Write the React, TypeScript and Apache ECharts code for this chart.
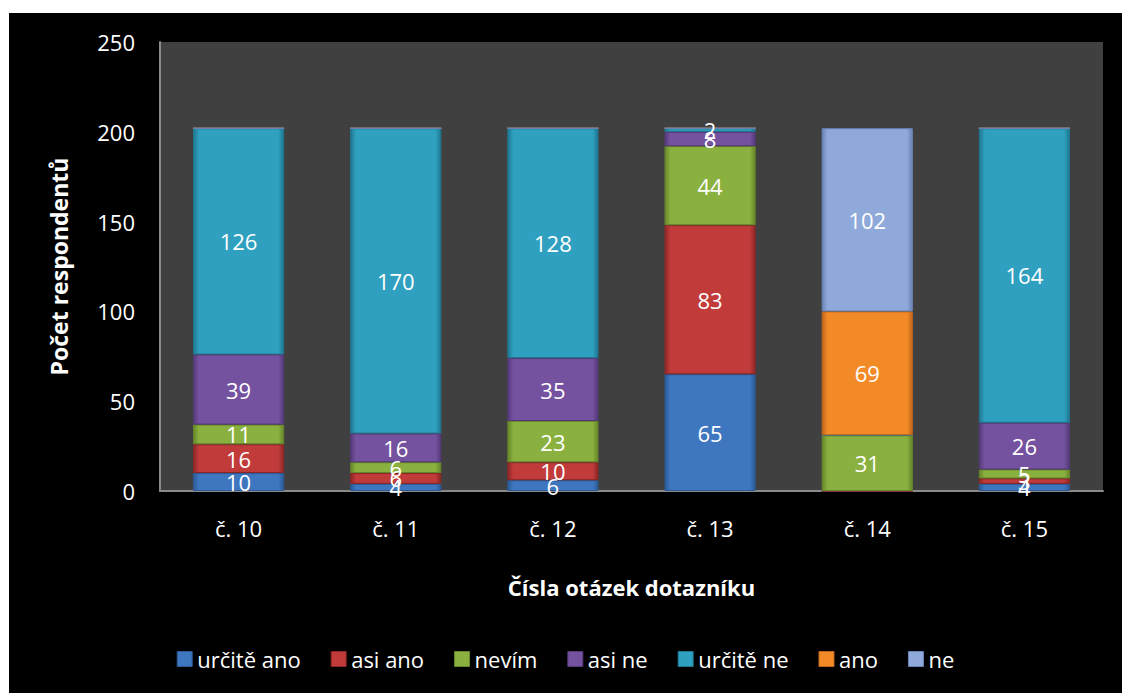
import React, { useEffect, useRef } from "react";
import * as echarts from "echarts";

const categories = ["č. 10", "č. 11", "č. 12", "č. 13", "č. 14", "č. 15"];
const seriesNames = ["určitě ano", "asi ano", "nevím", "asi ne", "určitě ne", "ano", "ne"];
const urciteAno = [10, 4, 6, 65, 0, 4];
const asiAno = [16, 6, 10, 83, 0, 3];
const nevim = [11, 6, 23, 44, 31, 5];
const asiNe = [39, 16, 35, 8, 0, 26];
const urciteNe = [126, 170, 128, 2, 0, 164];
const ano = [0, 0, 0, 0, 69, 0];
const ne = [0, 0, 0, 0, 102, 0];
const yTicks = { min: 0, max: 250, interval: 50 };

const colors = ["#3E77C0", "#C13B3B", "#8AB13F", "#7552A0", "#2FA0BF", "#F38A28", "#8FAADA"];
const borders = ["#2B5A96", "#8E2626", "#67862A", "#553A7A", "#1F7892", "#C0661A", "#6A84B8"];

const FONT = "'Open Sans', 'Noto Sans', sans-serif";

export default function App() {
  const ref = useRef<HTMLDivElement>(null);
  useEffect(() => {
    if (!ref.current) return;
    const chart = echarts.init(ref.current, undefined, { renderer: "svg" });
    const dataSets = [urciteAno, asiAno, nevim, asiNe, urciteNe, ano, ne];
    const series = dataSets.map((d, i) => ({
      name: seriesNames[i],
      type: "bar",
      stack: "total",
      barWidth: "58%",
      data: d,
      itemStyle: {
        color: new echarts.graphic.LinearGradient(0, 0, 1, 0, [
          { offset: 0, color: borders[i] },
          { offset: 0.06, color: colors[i] },
          { offset: 0.94, color: colors[i] },
          { offset: 1, color: borders[i] },
        ]),
        borderColor: borders[i],
        borderWidth: 1,
      },
      label: {
        show: true,
        position: "inside",
        color: "#ffffff",
        fontSize: 22,
        fontFamily: FONT,
        formatter: (p: any) => (p.value ? String(p.value) : ""),
      },
    }));
    chart.setOption({
      animation: false,
      backgroundColor: "#000000",
      color: colors,
      grid: {
        left: 151,
        top: 29,
        right: 19,
        bottom: 202,
        show: true,
        backgroundColor: "#404040",
        borderWidth: 0,
        containLabel: false,
      },
      legend: {
        data: seriesNames.map((n, i) => ({
          name: n,
          itemStyle: { color: colors[i], borderColor: borders[i], borderWidth: 1 },
        })),
        top: 630,
        left: "center",
        icon: "rect",
        itemWidth: 15,
        itemHeight: 15,
        itemGap: 30,
        textStyle: { color: "#ffffff", fontSize: 22, fontFamily: FONT },
      },
      xAxis: {
        type: "category",
        data: categories,
        name: "Čísla otázek dotazníku",
        nameLocation: "middle",
        nameGap: 85,
        nameTextStyle: { color: "#ffffff", fontSize: 22, fontWeight: "bold", fontFamily: FONT },
        axisLine: { show: true, lineStyle: { color: "#8a8a8a", width: 2 } },
        axisTick: { show: false },
        axisLabel: { color: "#ffffff", fontSize: 22, fontFamily: FONT, margin: 26 },
        splitLine: { show: false },
      },
      yAxis: {
        type: "value",
        min: yTicks.min,
        max: yTicks.max,
        interval: yTicks.interval,
        name: "Počet respondentů",
        nameLocation: "middle",
        nameGap: 90,
        nameTextStyle: { color: "#ffffff", fontSize: 23, fontWeight: "bold", fontFamily: FONT },
        axisLine: { show: true, lineStyle: { color: "#8a8a8a", width: 2 } },
        axisTick: { show: false },
        axisLabel: { color: "#ffffff", fontSize: 22, fontFamily: FONT, margin: 25 },
        splitLine: { show: false },
      },
      series,
    });
    return () => chart.dispose();
  }, []);
  return (
    <div style={{ position: "fixed", left: 0, top: 0, width: 1122, height: 693, background: "#ffffff" }}>
      <div ref={ref} style={{ position: "absolute", left: 9, top: 13, width: 1113, height: 680 }} />
    </div>
  );
}
